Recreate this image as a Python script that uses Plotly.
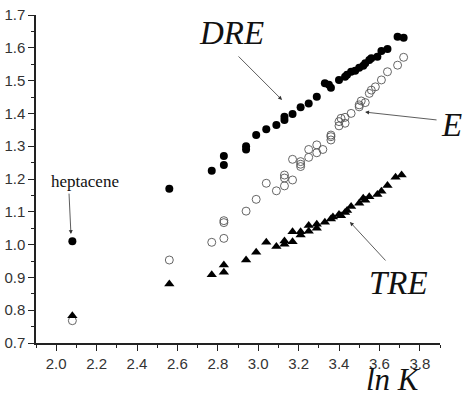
import plotly.graph_objects as go

dre_x = [2.08, 2.56, 2.77, 2.83, 2.83, 2.94, 2.94, 2.99, 3.04, 3.09, 3.13, 3.13, 3.17, 3.21, 3.25, 3.29,
         3.33, 3.35, 3.36, 3.40, 3.43, 3.44, 3.46, 3.48, 3.50, 3.52, 3.53, 3.55, 3.56, 3.59, 3.61, 3.64, 3.69, 3.72]
dre_y = [1.01, 1.17, 1.225, 1.27, 1.243, 1.30, 1.29, 1.334, 1.352, 1.365, 1.38, 1.39, 1.398, 1.419, 1.43, 1.451,
         1.492, 1.487, 1.478, 1.502, 1.512, 1.518, 1.527, 1.53, 1.539, 1.545, 1.553, 1.563, 1.568, 1.573, 1.59, 1.596, 1.634, 1.631]

e_x = [2.08, 2.56, 2.77, 2.83, 2.83, 2.83, 2.94, 2.99, 3.04, 3.09, 3.13, 3.13, 3.13, 3.17, 3.17, 3.21, 3.21, 3.21,
       3.25, 3.25, 3.29, 3.29, 3.32, 3.36, 3.36, 3.36, 3.40, 3.40, 3.41, 3.43, 3.43, 3.46, 3.50, 3.50, 3.51, 3.53,
       3.55, 3.56, 3.58, 3.61, 3.64, 3.69, 3.72]
e_y = [0.768, 0.953, 1.007, 1.019, 1.067, 1.073, 1.102, 1.138, 1.187, 1.164, 1.212, 1.203, 1.179, 1.197, 1.26, 1.253,
       1.245, 1.238, 1.266, 1.29, 1.304, 1.28, 1.29, 1.319, 1.329, 1.334, 1.362, 1.375, 1.385, 1.37, 1.388, 1.40,
       1.42, 1.426, 1.438, 1.433, 1.461, 1.471, 1.481, 1.502, 1.527, 1.547, 1.571]

tre_x = [2.08, 2.56, 2.77, 2.83, 2.83, 2.94, 2.99, 3.04, 3.09, 3.13, 3.13, 3.17, 3.17, 3.21, 3.21, 3.25, 3.25,
         3.29, 3.29, 3.33, 3.36, 3.37, 3.40, 3.41, 3.43, 3.44, 3.46, 3.50, 3.52, 3.53, 3.55, 3.59, 3.61, 3.64, 3.68, 3.71]
tre_y = [0.783, 0.880, 0.908, 0.938, 0.916, 0.953, 0.977, 1.007, 0.994, 1.011, 1.001, 1.009, 1.039, 1.029, 1.039,
         1.058, 1.041, 1.062, 1.05, 1.068, 1.078, 1.084, 1.092, 1.088, 1.098, 1.104, 1.116, 1.126, 1.141, 1.135,
         1.146, 1.153, 1.163, 1.18, 1.205, 1.212]

x_ticks = [2.0, 2.2, 2.4, 2.6, 2.8, 3.0, 3.2, 3.4, 3.6, 3.8]
y_ticks = [0.7, 0.8, 0.9, 1.0, 1.1, 1.2, 1.3, 1.4, 1.5, 1.6, 1.7]

fig = go.Figure()
fig.add_trace(go.Scatter(x=e_x, y=e_y, mode="markers", name="E", cliponaxis=False,
                         marker=dict(symbol="circle-open", size=8, color="#555", line=dict(width=0.9))))
fig.add_trace(go.Scatter(x=dre_x, y=dre_y, mode="markers", name="DRE", cliponaxis=False,
                         marker=dict(symbol="circle", size=8, color="black")))
fig.add_trace(go.Scatter(x=tre_x, y=tre_y, mode="markers", name="TRE", cliponaxis=False,
                         marker=dict(symbol="triangle-up", size=9, color="black")))

serif = "Liberation Serif, Times New Roman, serif"
txt = dict(family=serif, size=33, color="#111")
c = dict(xanchor="center", yanchor="middle", showarrow=False)
annots = [
    dict(x=2.87, y=1.645, xref="x", yref="y", text="<i>DRE</i>", font=txt, **c),
    dict(x=1.029, y=0.664, xref="paper", yref="paper", text="<i>E</i>", font=txt, **c),
    dict(x=3.697, y=0.883, xref="x", yref="y", text="<i>TRE</i>", font=txt, **c),
    dict(x=2.143, y=1.191, xref="x", yref="y", text="heptacene", font=dict(family=serif, size=17, color="#111"), **c),
    dict(x=0.886, y=-0.1677, xref="paper", yref="paper", text="<i>ln K</i>", borderpad=0,
         font=dict(family=serif, size=31, color="#111"), xanchor="center", yanchor="bottom", showarrow=False),
]
arrows = [
    (3.118, 1.441, -45, -45),
    (3.529, 1.404, 73, 8),
    (3.454, 1.069, 37, 40),
    (2.073, 1.032, -2, -42),
]
for (ax_x, ax_y, dx, dy) in arrows:
    annots.append(dict(x=ax_x, y=ax_y, xref="x", yref="y", text="", showarrow=True,
                       ax=dx, ay=dy, axref="pixel", ayref="pixel",
                       arrowhead=2, arrowsize=1, arrowwidth=0.8, arrowcolor="#333"))

tickfont = dict(family="Liberation Sans, Arial, sans-serif", size=15, color="#333")
fig.update_layout(
    width=464, height=398,
    margin=dict(l=36, r=24, t=15, b=55, autoexpand=False),
    paper_bgcolor="white", plot_bgcolor="white",
    showlegend=False,
    annotations=annots,
    xaxis=dict(range=[1.9, 3.9], tickvals=x_ticks, ticktext=[f"{v:.1f}" for v in x_ticks], automargin=False,
               showgrid=False, zeroline=False, showline=True, linecolor="#222", linewidth=1.5,
               ticks="outside", ticklen=6, tickwidth=1.3, tickcolor="#222", tickfont=tickfont,
               minor=dict(dtick=0.1, tick0=1.9, ticks="outside", ticklen=3, tickwidth=1.2, tickcolor="#222")),
    yaxis=dict(range=[0.7, 1.7], tickvals=y_ticks, ticktext=[f"{v:.1f}" for v in y_ticks], automargin=False,
               showgrid=False, zeroline=False, showline=True, linecolor="#222", linewidth=1.5,
               ticks="outside", ticklen=6, tickwidth=1.3, tickcolor="#222", tickfont=tickfont,
               minor=dict(dtick=0.05, tick0=0.7, ticks="outside", ticklen=3, tickwidth=1.2, tickcolor="#222")),
)
fig.write_html("out.html")
